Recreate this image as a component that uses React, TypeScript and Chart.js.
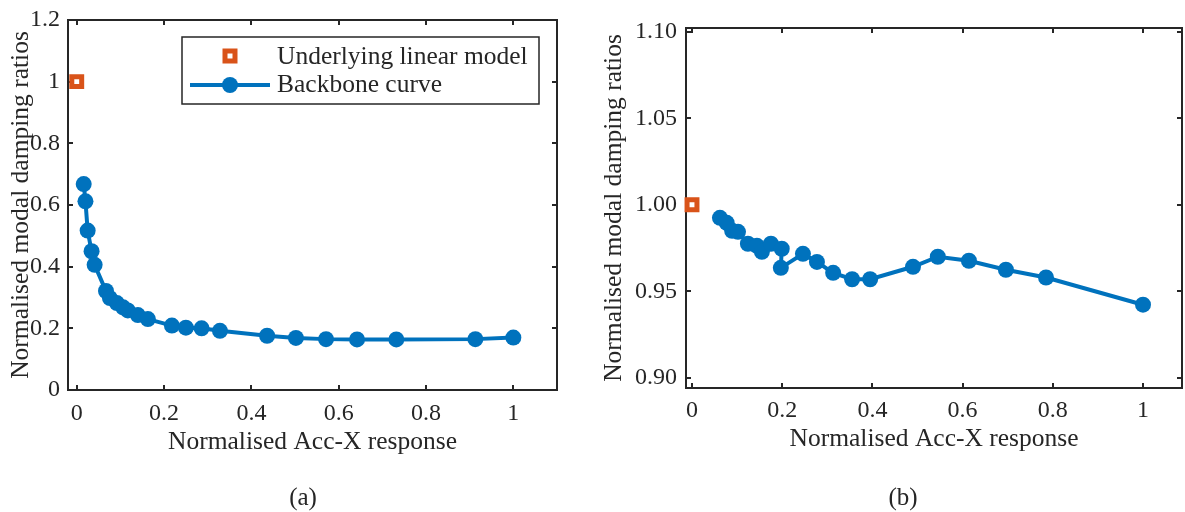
import React, { useEffect, useRef } from "react";
import { Chart, registerables } from "chart.js";

Chart.register(...registerables);

// ---------- data ----------
const linearX = [0];
const linearY = [1];

const backboneAX = [0.016, 0.020, 0.025, 0.034, 0.041, 0.067, 0.076, 0.092, 0.106, 0.117, 0.140, 0.163, 0.218, 0.250, 0.286, 0.328, 0.436, 0.502, 0.571, 0.642, 0.732, 0.913, 1.0];
const backboneAY = [0.668, 0.612, 0.517, 0.450, 0.406, 0.321, 0.298, 0.282, 0.268, 0.258, 0.243, 0.230, 0.209, 0.202, 0.200, 0.192, 0.176, 0.169, 0.165, 0.164, 0.164, 0.165, 0.170];

const backboneBX = [0.062, 0.077, 0.089, 0.102, 0.124, 0.144, 0.155, 0.175, 0.199, 0.197, 0.246, 0.277, 0.313, 0.355, 0.395, 0.490, 0.545, 0.614, 0.696, 0.785, 1.0];
const backboneBY = [0.9925, 0.9896, 0.985, 0.9844, 0.9775, 0.9763, 0.9729, 0.9775, 0.9746, 0.9636, 0.9717, 0.967, 0.9607, 0.957, 0.957, 0.9642, 0.970, 0.9677, 0.9625, 0.958, 0.9423];

const xTickValues = [0, 0.2, 0.4, 0.6, 0.8, 1];
const xTickLabels = ["0", "0.2", "0.4", "0.6", "0.8", "1"];
const yTickValuesA = [0, 0.2, 0.4, 0.6, 0.8, 1, 1.2];
const yTickLabelsA = ["0", "0.2", "0.4", "0.6", "0.8", "1", "1.2"];
const yTickValuesB = [0.9, 0.95, 1.0, 1.05, 1.1];
const yTickLabelsB = ["0.90", "0.95", "1.00", "1.05", "1.10"];

const xTitle = "Normalised Acc-X response";
const yTitle = "Normalised modal damping ratios";
const linearLabel = "Underlying linear model";
const backboneLabel = "Backbone curve";

// ---------- styles ----------
const FONT = "'Liberation Serif', 'Times New Roman', serif";
const INK = "#262626";
const BLUE = "#0072BD";
const ORANGE = "#D95319";
const TITLE_SIZE = 25.5;

const pts = (xs: number[], ys: number[]) => xs.map((x, i) => ({ x, y: ys[i] }));

const framePlugin = {
  id: "frame",
  beforeDatasetsDraw(chart: any) {
    const { ctx, chartArea: a, scales } = chart;
    ctx.save();
    ctx.strokeStyle = INK;
    ctx.lineWidth = 2;
    ctx.strokeRect(a.left, a.top, a.right - a.left, a.bottom - a.top);
    const L = 5;
    ctx.beginPath();
    scales.x.ticks.forEach((t: any) => {
      const p = Math.round(scales.x.getPixelForValue(t.value));
      ctx.moveTo(p, a.bottom); ctx.lineTo(p, a.bottom - L);
      ctx.moveTo(p, a.top); ctx.lineTo(p, a.top + L);
    });
    scales.y.ticks.forEach((t: any) => {
      const p = Math.round(scales.y.getPixelForValue(t.value));
      ctx.moveTo(a.left, p); ctx.lineTo(a.left + L, p);
      ctx.moveTo(a.right, p); ctx.lineTo(a.right - L, p);
    });
    ctx.stroke();
    ctx.restore();
  },
};

const legendPlugin = {
  id: "customLegend",
  afterDatasetsDraw(chart: any, _args: any, opts: any) {
    if (!opts || !opts.show) return;
    const { ctx } = chart;
    const ds = chart.data.datasets;
    const bx = 182, by = 37, bw = 357, bh = 67;
    ctx.save();
    ctx.fillStyle = "#fff";
    ctx.fillRect(bx, by, bw, bh);
    ctx.strokeStyle = INK;
    ctx.lineWidth = 1.5;
    ctx.strokeRect(bx, by, bw, bh);
    const mx = 230, r1 = 56, r2 = 85;
    ctx.fillStyle = "#fff";
    ctx.strokeStyle = ORANGE;
    ctx.lineWidth = 5;
    ctx.beginPath();
    ctx.rect(mx - 5, r1 - 5, 10, 10);
    ctx.fill();
    ctx.stroke();
    ctx.strokeStyle = BLUE;
    ctx.lineWidth = 4;
    ctx.beginPath();
    ctx.moveTo(190, r2);
    ctx.lineTo(270, r2);
    ctx.stroke();
    ctx.fillStyle = BLUE;
    ctx.beginPath();
    ctx.arc(mx, r2, 8, 0, Math.PI * 2);
    ctx.fill();
    ctx.fillStyle = INK;
    ctx.font = `${TITLE_SIZE}px ${FONT}`;
    ctx.textBaseline = "alphabetic";
    ctx.textAlign = "left";
    ctx.fillText(ds[0].label, 277, 64);
    ctx.fillText(ds[1].label, 277, 92);
    ctx.restore();
  },
};

function makeConfig(p: {
  bx: number[]; by: number[];
  xMin: number; xMax: number; yMin: number; yMax: number;
  yVals: number[]; yLabels: string[];
  yWidth: number; xHeight: number; padTop: number; padRight: number;
  yTitlePad: number; xTitlePad: number; xTickPad: number; yTickPad: number;
  legend: boolean;
}): any {
  return {
    type: "scatter",
    data: {
      datasets: [
        {
          label: linearLabel,
          data: pts(linearX, linearY),
          showLine: false,
          pointStyle: "rect",
          pointRadius: 7,
          pointBorderWidth: 5,
          pointBackgroundColor: "#fff",
          pointBorderColor: ORANGE,
          clip: false,
        },
        {
          label: backboneLabel,
          data: pts(p.bx, p.by),
          showLine: true,
          borderColor: BLUE,
          borderWidth: 4,
          pointRadius: 8,
          pointBorderWidth: 0,
          pointBackgroundColor: BLUE,
          pointBorderColor: BLUE,
          clip: false,
        },
      ],
    },
    options: {
      responsive: false,
      animation: false,
      events: [],
      layout: { autoPadding: false, padding: { left: 0, top: p.padTop, right: p.padRight, bottom: 0 } },
      plugins: {
        legend: { display: false },
        tooltip: { enabled: false },
        customLegend: { show: p.legend },
      },
      scales: {
        x: {
          type: "linear",
          min: p.xMin,
          max: p.xMax,
          grid: { display: false, drawTicks: false },
          border: { display: false },
          afterBuildTicks: (s: any) => { s.ticks = xTickValues.map((v) => ({ value: v })); },
          afterFit: (s: any) => { s.height = p.xHeight; s.paddingLeft = 0; s.paddingRight = 0; },
          ticks: {
            autoSkip: false,
            maxRotation: 0,
            padding: p.xTickPad,
            color: INK,
            font: { family: FONT, size: 24 },
            callback: (_v: any, i: number) => xTickLabels[i],
          },
          title: {
            display: true,
            text: xTitle,
            color: INK,
            font: { family: FONT, size: TITLE_SIZE },
            padding: { top: 0, bottom: p.xTitlePad },
          },
        },
        y: {
          type: "linear",
          min: p.yMin,
          max: p.yMax,
          grid: { display: false, drawTicks: false },
          border: { display: false },
          afterBuildTicks: (s: any) => { s.ticks = p.yVals.map((v) => ({ value: v })); },
          afterFit: (s: any) => { s.width = p.yWidth; s.paddingTop = 0; s.paddingBottom = 0; },
          ticks: {
            autoSkip: false,
            padding: p.yTickPad,
            color: INK,
            font: { family: FONT, size: 24 },
            callback: (_v: any, i: number) => p.yLabels[i],
          },
          title: {
            display: true,
            text: yTitle,
            color: INK,
            font: { family: FONT, size: TITLE_SIZE },
            padding: { top: p.yTitlePad, bottom: 0 },
          },
        },
      },
    },
    plugins: [framePlugin, legendPlugin],
  };
}

function Panel({ left, width, config }: { left: number; width: number; config: any }) {
  const ref = useRef<HTMLCanvasElement>(null);
  useEffect(() => {
    const chart = new Chart(ref.current as HTMLCanvasElement, config);
    return () => chart.destroy();
  }, []);
  return (
    <canvas
      ref={ref}
      width={width}
      height={512}
      style={{ position: "absolute", left, top: 0, width, height: 512, display: "block" }}
    />
  );
}

export default function App() {
  const cfgA = makeConfig({
    bx: backboneAX, by: backboneAY,
    xMin: -0.02, xMax: 1.1, yMin: 0, yMax: 1.2,
    yVals: yTickValuesA, yLabels: yTickLabelsA,
    yWidth: 68, xHeight: 122, padTop: 20, padRight: 33,
    yTitlePad: 6, xTitlePad: 54, xTickPad: 9, yTickPad: 8,
    legend: true,
  });
  const cfgB = makeConfig({
    bx: backboneBX, by: backboneBY,
    xMin: -0.0133, xMax: 1.0865, yMin: 0.8942, yMax: 1.1021,
    yVals: yTickValuesB, yLabels: yTickLabelsB,
    yWidth: 96, xHeight: 124, padTop: 28, padRight: 3,
    yTitlePad: 9, xTitlePad: 57, xTickPad: 8, yTickPad: 9,
    legend: false,
  });
  const cap = (x: number): React.CSSProperties => ({
    position: "absolute", left: x - 40, width: 80, top: 482, textAlign: "center",
    fontFamily: FONT, fontSize: 25, lineHeight: "30px", color: INK,
  });
  return (
    <div style={{ position: "absolute", left: 0, top: 0, width: 1185, height: 512, background: "#fff", overflow: "hidden" }}>
      <Panel left={0} width={590} config={cfgA} />
      <Panel left={590} width={595} config={cfgB} />
      <div style={cap(303)}>(a)</div>
      <div style={cap(903)}>(b)</div>
    </div>
  );
}
